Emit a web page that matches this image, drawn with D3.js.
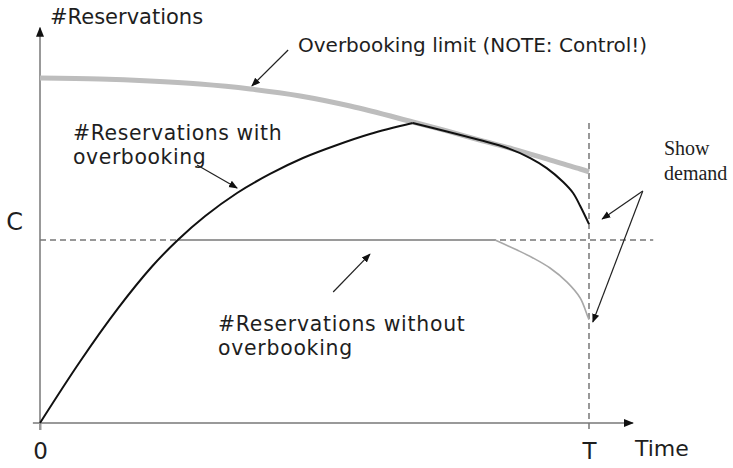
<!DOCTYPE html>
<html><head><meta charset="utf-8">
<script src="https://cdn.jsdelivr.net/npm/d3@7"></script>
<style>body{margin:0;background:#fff}svg{display:block}</style>
</head><body>
<svg id="c" width="733" height="468"></svg>
<script>
// ---- data (time 0..T=100, reservations with capacity C=100) ----
const T = 100, C = 100;
const xAxisExtent = [-1.3, 108];
const yAxisExtent = [-3.8, 216];
const xTicks = [0, T];
const xTickLabels = ["0", "T"];
const yTicks = [C];
const yTickLabels = ["C"];

const limitX = [0, 10.9, 20.0, 29.1, 38.3, 47.4, 56.5, 67.9, 74.1, 80.1, 86.2, 92.3, 98.4, 100];
const limitY = [188.5, 188.0, 186.9, 185.2, 182.5, 178.7, 173.2, 164.5, 159.6, 154.6, 149.7, 144.3, 138.8, 137.2];

const withRiseX = [0, 7.3, 14.2, 20.4, 25.1, 30.1, 35.9, 41.9, 47.9, 54.1, 60.1, 67.9];
const withRiseY = [0, 33.6, 62.6, 85.5, 100, 113.1, 125.7, 136.1, 144.8, 151.9, 157.9, 163.9];
const withFallX = [67.9, 74.1, 80.1, 85.1, 89.3, 92.3, 95.3, 97.1, 98.4, 100];
const withFallY = [163.9, 159.3, 154.6, 150.3, 144.8, 139.3, 131.7, 125.7, 118.6, 108.7];

const withoutX = [25.1, 82.9, 86.9, 89.8, 92.9, 96.0, 98.4, 99.8, 100];
const withoutY = [100, 100, 94.5, 90.2, 84.7, 77.0, 68.3, 57.9, 56.5];

const capLineX = [0, 111.7];
const tLineY = [163.9, -3.8];

const arrowFromX = [45.2, 28.6, 53.4, 109.8, 109.8];
const arrowFromY = [203.8, 141.0, 71.6, 126.8, 126.8];
const arrowToX = [38.6, 35.9, 60.1, 102.4, 100.7];
const arrowToY = [184.2, 128.4, 92.3, 111.5, 55.2];

// ---- drawing ----
const svg = d3.select("#c");
const x = d3.scaleLinear().domain([0, 100]).range([40, 589]);
const y = d3.scaleLinear().domain([0, 100]).range([423, 240]);
const sans = "'DejaVu Sans', Verdana, sans-serif";
const txt = "#1e1e1e";

const defs = svg.append("defs");
defs.append("marker").attr("id", "ah").attr("viewBox", "0 0 10 10")
  .attr("refX", 9).attr("refY", 5).attr("markerWidth", 9).attr("markerHeight", 9)
  .attr("markerUnits", "userSpaceOnUse").attr("orient", "auto")
  .append("path").attr("d", "M0,1 L10,5 L0,9 Z").attr("fill", "#111");
defs.append("marker").attr("id", "axh").attr("viewBox", "0 0 10 10")
  .attr("refX", 9).attr("refY", 5).attr("markerWidth", 10).attr("markerHeight", 10)
  .attr("markerUnits", "userSpaceOnUse").attr("orient", "auto")
  .append("path").attr("d", "M0,1 L10,5 L0,9 Z").attr("fill", "#111");

// axes with ticks via d3 axis
const gx = svg.append("g").attr("transform", `translate(0,${y(0)})`)
  .call(d3.axisBottom(x).tickValues(xTicks).tickFormat((d, i) => xTickLabels[i]).tickSize(7).tickPadding(13));
gx.select(".domain").remove();
gx.selectAll(".tick line").attr("stroke", (d) => d === 0 ? "#999" : "none").attr("stroke-width", 2);
gx.selectAll(".tick text").attr("font-family", sans).attr("font-size", 23).attr("fill", txt);

const gy = svg.append("g").attr("transform", `translate(${x(0)},0)`)
  .call(d3.axisLeft(y).tickValues(yTicks).tickFormat((d, i) => yTickLabels[i]).tickSize(0).tickPadding(17));
gy.select(".domain").remove();
gy.selectAll(".tick text").attr("font-family", sans).attr("font-size", 24).attr("fill", txt).attr("dy", "-0.45em");

// axis lines with arrowheads
svg.append("line").attr("x1", x(xAxisExtent[0])).attr("x2", x(xAxisExtent[1]))
  .attr("y1", y(0)).attr("y2", y(0)).attr("stroke", "#999").attr("stroke-width", 2).attr("marker-end", "url(#axh)");
svg.append("line").attr("x1", x(0)).attr("x2", x(0))
  .attr("y1", y(yAxisExtent[0])).attr("y2", y(yAxisExtent[1])).attr("stroke", "#999").attr("stroke-width", 2).attr("marker-end", "url(#axh)");

// dashed reference lines
svg.append("line").attr("x1", x(capLineX[0])).attr("x2", x(capLineX[1])).attr("y1", y(C)).attr("y2", y(C))
  .attr("stroke", "#777").attr("stroke-width", 1.5).attr("stroke-dasharray", "6,4");
svg.append("line").attr("x1", x(T)).attr("x2", x(T)).attr("y1", y(tLineY[0])).attr("y2", y(tLineY[1]))
  .attr("stroke", "#777").attr("stroke-width", 1.5).attr("stroke-dasharray", "6,4");

const zip = (a, b) => a.map((v, i) => [v, b[i]]);
const line = d3.line().x(d => x(d[0])).y(d => y(d[1])).curve(d3.curveCatmullRom.alpha(0.5));

// overbooking limit
svg.append("path").attr("d", line(zip(limitX, limitY))).attr("fill", "none")
  .attr("stroke", "#bdbdbd").attr("stroke-width", 5);

// without overbooking
const wo = zip(withoutX, withoutY);
svg.append("path").attr("d", d3.line().x(d => x(d[0])).y(d => y(d[1]))(wo.slice(0, 2))).attr("fill", "none")
  .attr("stroke", "#9a9a9a").attr("stroke-width", 2);
svg.append("path").attr("d", line(wo.slice(1))).attr("fill", "none")
  .attr("stroke", "#a8a8a8").attr("stroke-width", 1.6);

// with overbooking
svg.append("path").attr("d", line(zip(withRiseX, withRiseY))).attr("fill", "none")
  .attr("stroke", "#111").attr("stroke-width", 2);
svg.append("path").attr("d", line(zip(withFallX, withFallY))).attr("fill", "none")
  .attr("stroke", "#111").attr("stroke-width", 2);

// annotation arrows
arrowFromX.forEach((fx, i) => {
  svg.append("line").attr("x1", x(fx)).attr("y1", y(arrowFromY[i]))
    .attr("x2", x(arrowToX[i])).attr("y2", y(arrowToY[i]))
    .attr("stroke", "#222").attr("stroke-width", 1.2).attr("marker-end", "url(#ah)");
});

// texts
function label(tx, ty, lines, size, fam, lh, ls) {
  [].concat(lines).forEach((s, i) => {
    svg.append("text").attr("x", tx).attr("y", ty + i * (lh || 0)).attr("font-family", fam || sans)
      .attr("font-size", size).attr("fill", txt).attr("letter-spacing", ls || 0).text(s);
  });
}
label(50, 24, "#Reservations", 21);
label(298, 52, "Overbooking limit (NOTE: Control!)", 20);
label(73, 140, ["#Reservations with", "overbooking"], 20.4, sans, 24, 0.6);
label(218, 331, ["#Reservations without", "overbooking"], 20.4, sans, 24, 0.75);
label(635, 456, "Time", 22);
const serif = "'Liberation Serif', 'Times New Roman', serif";
label(664, 155, ["Show", "demand"], 20, serif, 25);
</script>
</body></html>
